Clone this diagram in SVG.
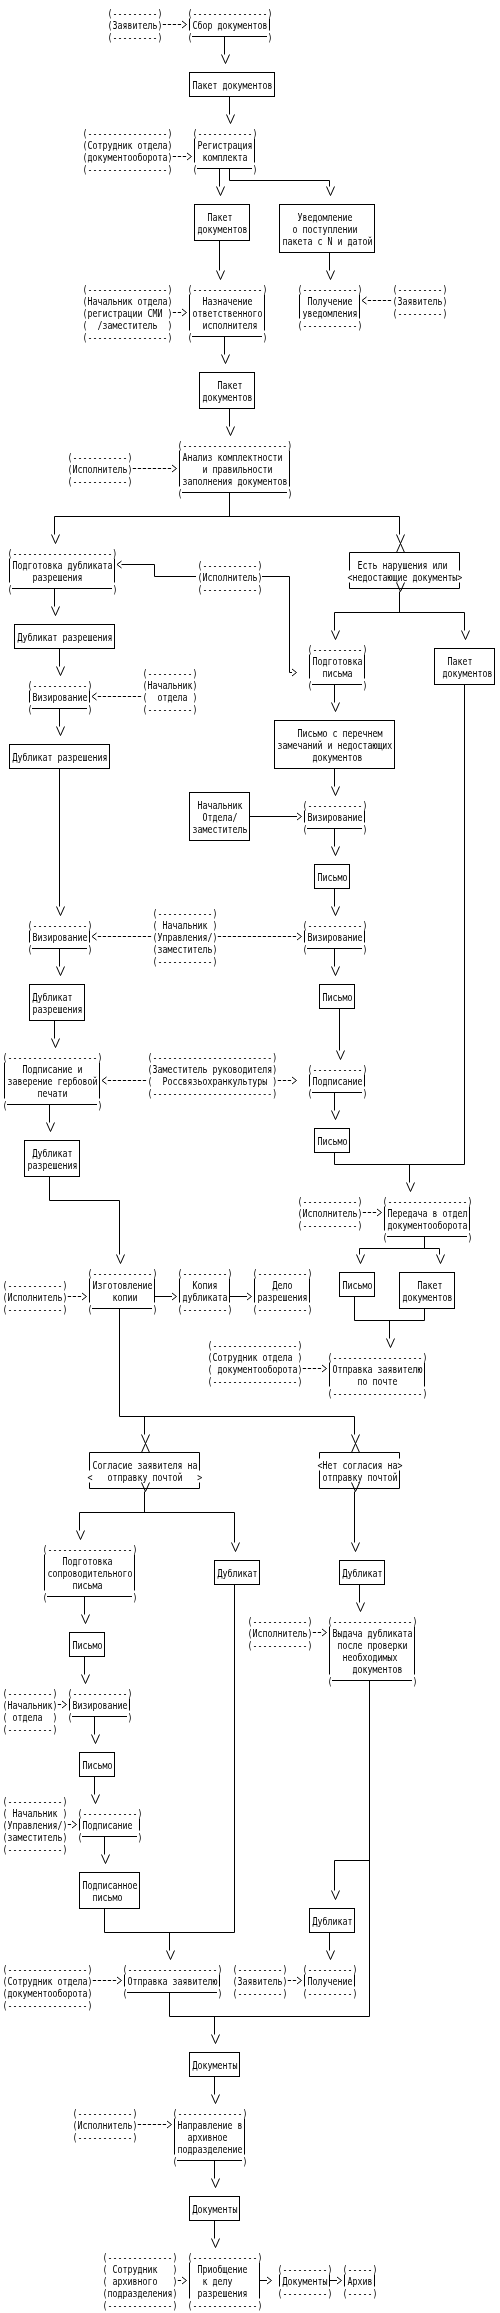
<svg xmlns="http://www.w3.org/2000/svg" width="500" height="2313" viewBox="0 0 500 2313">
<style>
text{font-family:"DejaVu Sans Mono","Liberation Mono",monospace;font-size:11px;fill:#000;white-space:pre}
.l,.b{fill:none;stroke:#000;stroke-width:1}
.d{fill:none;stroke:#000;stroke-width:1;stroke-dasharray:3.3 1.7}
</style>
<defs>
<filter id="gray" x="0" y="0" width="500" height="2313" filterUnits="userSpaceOnUse" color-interpolation-filters="sRGB"><feColorMatrix type="saturate" values="0"/></filter>
<path id="v" d="M-4,0L0,9L4,0" fill="none" stroke="#000"/>
<path id="a" d="M-4,0L0,-9L4,0" fill="none" stroke="#000"/>
<path id="gt" d="M0,-3.5L4.5,0L0,3.5" fill="none" stroke="#000"/>
<path id="lt" d="M4.5,-3.5L0,0L4.5,3.5" fill="none" stroke="#000"/>
</defs>
<rect width="500" height="2313" fill="#fff"/>
<g filter="url(#gray)">
<rect width="500" height="2313" fill="#fff"/>
<g transform="translate(0,.5)">

<g id="n1"><text transform="matrix(.755 0 0 1 107.5 16)">(---------)</text><text transform="matrix(.755 0 0 1 107.5 28)">(Заявитель)</text><text transform="matrix(.755 0 0 1 107.5 40)">(---------)</text></g>

<g id="n2"><text transform="matrix(.755 0 0 1 187.5 16)">(---------------)</text><text transform="matrix(.755 0 0 1 192.5 28)">Сбор документов</text><text transform="matrix(.755 0 0 1 187.5 40)">(</text><text transform="matrix(.755 0 0 1 267.5 40)">)</text><path class="l" d="M189.5,18V30M269.5,18V30M192,36H267"/></g>

<g id="n3"><rect class="b" x="189.5" y="72" width="85" height="24"/><text transform="matrix(.755 0 0 1 192.5 88)">Пакет документов</text></g>

<g id="n4"><text transform="matrix(.755 0 0 1 82.5 136)">(----------------)</text><text transform="matrix(.755 0 0 1 82.5 148)">(Сотрудник отдела)</text><text transform="matrix(.755 0 0 1 82.5 160)">(документооборота)</text><text transform="matrix(.755 0 0 1 82.5 172)">(----------------)</text></g>

<g id="n5"><text transform="matrix(.755 0 0 1 192.5 136)">(-----------)</text><text transform="matrix(.755 0 0 1 197.5 148)">Регистрация</text><text transform="matrix(.755 0 0 1 202.5 160)">комплекта</text><text transform="matrix(.755 0 0 1 192.5 172)">(</text><text transform="matrix(.755 0 0 1 252.5 172)">)</text><path class="l" d="M194.5,138V162M254.5,138V162M197,168H252"/></g>

<g id="n6"><rect class="b" x="194.5" y="204" width="55" height="36"/><text transform="matrix(.755 0 0 1 207.5 220)">Пакет</text><text transform="matrix(.755 0 0 1 197.5 232)">документов</text></g>

<g id="n7"><rect class="b" x="279.5" y="204" width="95" height="48"/><text transform="matrix(.755 0 0 1 297.5 220)">Уведомление</text><text transform="matrix(.755 0 0 1 292.5 232)">о поступлении</text><text transform="matrix(.755 0 0 1 282.5 244)">пакета с N и датой</text></g>

<g id="n8"><text transform="matrix(.755 0 0 1 82.5 292)">(----------------)</text><text transform="matrix(.755 0 0 1 82.5 304)">(Начальник отдела)</text><text transform="matrix(.755 0 0 1 82.5 316)">(регистрации СМИ )</text><text transform="matrix(.755 0 0 1 82.5 328)">(  /заместитель  )</text><text transform="matrix(.755 0 0 1 82.5 340)">(----------------)</text></g>

<g id="n9"><text transform="matrix(.755 0 0 1 187.5 292)">(--------------)</text><text transform="matrix(.755 0 0 1 202.5 304)">Назначение</text><text transform="matrix(.755 0 0 1 192.5 316)">ответственного</text><text transform="matrix(.755 0 0 1 202.5 328)">исполнителя</text><text transform="matrix(.755 0 0 1 187.5 340)">(</text><text transform="matrix(.755 0 0 1 262.5 340)">)</text><path class="l" d="M189.5,294V330M264.5,294V330M192,336H262"/></g>

<g id="n10"><text transform="matrix(.755 0 0 1 297.5 292)">(-----------)</text><text transform="matrix(.755 0 0 1 307.5 304)">Получение</text><text transform="matrix(.755 0 0 1 302.5 316)">уведомления</text><text transform="matrix(.755 0 0 1 297.5 328)">(-----------)</text><path class="l" d="M299.5,294V318M359.5,294V318"/></g>

<g id="n11"><text transform="matrix(.755 0 0 1 392.5 292)">(---------)</text><text transform="matrix(.755 0 0 1 392.5 304)">(Заявитель)</text><text transform="matrix(.755 0 0 1 392.5 316)">(---------)</text></g>

<g id="n12"><rect class="b" x="199.5" y="372" width="55" height="36"/><text transform="matrix(.755 0 0 1 217.5 388)">Пакет</text><text transform="matrix(.755 0 0 1 202.5 400)">документов</text></g>

<g id="n13"><text transform="matrix(.755 0 0 1 67.5 460)">(-----------)</text><text transform="matrix(.755 0 0 1 67.5 472)">(Исполнитель)</text><text transform="matrix(.755 0 0 1 67.5 484)">(-----------)</text></g>

<g id="n14"><text transform="matrix(.755 0 0 1 177.5 448)">(---------------------)</text><text transform="matrix(.755 0 0 1 182.5 460)">Анализ комплектности</text><text transform="matrix(.755 0 0 1 202.5 472)">и правильности</text><text transform="matrix(.755 0 0 1 182.5 484)">заполнения документов</text><text transform="matrix(.755 0 0 1 177.5 496)">(</text><text transform="matrix(.755 0 0 1 287.5 496)">)</text><path class="l" d="M179.5,450V486M289.5,450V486M182,492H287"/></g>

<g id="n15"><text transform="matrix(.755 0 0 1 7.5 556)">(--------------------)</text><text transform="matrix(.755 0 0 1 12.5 568)">Подготовка дубликата</text><text transform="matrix(.755 0 0 1 32.5 580)">разрешения</text><text transform="matrix(.755 0 0 1 7.5 592)">(</text><text transform="matrix(.755 0 0 1 112.5 592)">)</text><path class="l" d="M9.5,558V582M114.5,558V582M12,588H112"/></g>

<g id="n16"><text transform="matrix(.755 0 0 1 197.5 568)">(-----------)</text><text transform="matrix(.755 0 0 1 197.5 580)">(Исполнитель)</text><text transform="matrix(.755 0 0 1 197.5 592)">(-----------)</text></g>

<g id="n17"><path class="l" d="M349.5,570V552H459.5V570M349.5,582V588H459.5V582"/><text transform="matrix(.755 0 0 1 357.5 568)">Есть нарушения или</text><text transform="matrix(.755 0 0 1 347.5 580)">&lt;недостающие документы&gt;</text></g>

<g id="n18"><rect class="b" x="14.5" y="624" width="100" height="24"/><text transform="matrix(.755 0 0 1 17.5 640)">Дубликат разрешения</text></g>

<g id="n19"><text transform="matrix(.755 0 0 1 307.5 652)">(----------)</text><text transform="matrix(.755 0 0 1 312.5 664)">Подготовка</text><text transform="matrix(.755 0 0 1 322.5 676)">письма</text><text transform="matrix(.755 0 0 1 307.5 688)">(</text><text transform="matrix(.755 0 0 1 362.5 688)">)</text><path class="l" d="M309.5,654V678M364.5,654V678M312,684H362"/></g>

<g id="n20"><rect class="b" x="434.5" y="648" width="60" height="36"/><text transform="matrix(.755 0 0 1 447.5 664)">Пакет</text><text transform="matrix(.755 0 0 1 442.5 676)">документов</text></g>

<g id="n21"><text transform="matrix(.755 0 0 1 27.5 688)">(-----------)</text><text transform="matrix(.755 0 0 1 32.5 700)">Визирование</text><text transform="matrix(.755 0 0 1 27.5 712)">(</text><text transform="matrix(.755 0 0 1 87.5 712)">)</text><path class="l" d="M29.5,690V702M89.5,690V702M32,708H87"/></g>

<g id="n22"><text transform="matrix(.755 0 0 1 142.5 676)">(---------)</text><text transform="matrix(.755 0 0 1 142.5 688)">(Начальник)</text><text transform="matrix(.755 0 0 1 142.5 700)">(  отдела )</text><text transform="matrix(.755 0 0 1 142.5 712)">(---------)</text></g>

<g id="n23"><rect class="b" x="274.5" y="720" width="120" height="48"/><text transform="matrix(.755 0 0 1 297.5 736)">Письмо с перечнем</text><text transform="matrix(.755 0 0 1 277.5 748)">замечаний и недостающих</text><text transform="matrix(.755 0 0 1 312.5 760)">документов</text></g>

<g id="n24"><rect class="b" x="9.5" y="744" width="100" height="24"/><text transform="matrix(.755 0 0 1 12.5 760)">Дубликат разрешения</text></g>

<g id="n25"><rect class="b" x="189.5" y="792" width="60" height="48"/><text transform="matrix(.755 0 0 1 197.5 808)">Начальник</text><text transform="matrix(.755 0 0 1 202.5 820)">Отдела/</text><text transform="matrix(.755 0 0 1 192.5 832)">заместитель</text></g>

<g id="n26"><text transform="matrix(.755 0 0 1 302.5 808)">(-----------)</text><text transform="matrix(.755 0 0 1 307.5 820)">Визирование</text><text transform="matrix(.755 0 0 1 302.5 832)">(</text><text transform="matrix(.755 0 0 1 362.5 832)">)</text><path class="l" d="M304.5,810V822M364.5,810V822M307,828H362"/></g>

<g id="n27"><rect class="b" x="314.5" y="864" width="35" height="24"/><text transform="matrix(.755 0 0 1 317.5 880)">Письмо</text></g>

<g id="n28"><text transform="matrix(.755 0 0 1 27.5 928)">(-----------)</text><text transform="matrix(.755 0 0 1 32.5 940)">Визирование</text><text transform="matrix(.755 0 0 1 27.5 952)">(</text><text transform="matrix(.755 0 0 1 87.5 952)">)</text><path class="l" d="M29.5,930V942M89.5,930V942M32,948H87"/></g>

<g id="n29"><text transform="matrix(.755 0 0 1 152.5 916)">(-----------)</text><text transform="matrix(.755 0 0 1 152.5 928)">( Начальник )</text><text transform="matrix(.755 0 0 1 152.5 940)">(Управления/)</text><text transform="matrix(.755 0 0 1 152.5 952)">(заместитель)</text><text transform="matrix(.755 0 0 1 152.5 964)">(-----------)</text></g>

<g id="n30"><text transform="matrix(.755 0 0 1 302.5 928)">(-----------)</text><text transform="matrix(.755 0 0 1 307.5 940)">Визирование</text><text transform="matrix(.755 0 0 1 302.5 952)">(</text><text transform="matrix(.755 0 0 1 362.5 952)">)</text><path class="l" d="M304.5,930V942M364.5,930V942M307,948H362"/></g>

<g id="n31"><rect class="b" x="29.5" y="984" width="55" height="36"/><text transform="matrix(.755 0 0 1 32.5 1000)">Дубликат</text><text transform="matrix(.755 0 0 1 32.5 1012)">разрешения</text></g>

<g id="n32"><rect class="b" x="319.5" y="984" width="35" height="24"/><text transform="matrix(.755 0 0 1 322.5 1000)">Письмо</text></g>

<g id="n33"><text transform="matrix(.755 0 0 1 2.5 1060)">(------------------)</text><text transform="matrix(.755 0 0 1 22.5 1072)">Подписание и</text><text transform="matrix(.755 0 0 1 7.5 1084)">заверение гербовой</text><text transform="matrix(.755 0 0 1 37.5 1096)">печати</text><text transform="matrix(.755 0 0 1 2.5 1108)">(</text><text transform="matrix(.755 0 0 1 97.5 1108)">)</text><path class="l" d="M4.5,1062V1098M99.5,1062V1098M7,1104H97"/></g>

<g id="n34"><text transform="matrix(.755 0 0 1 147.5 1060)">(------------------------)</text><text transform="matrix(.755 0 0 1 147.5 1072)">(Заместитель руководителя)</text><text transform="matrix(.755 0 0 1 147.5 1084)">(  Россвязьохранкультуры )</text><text transform="matrix(.755 0 0 1 147.5 1096)">(------------------------)</text></g>

<g id="n35"><text transform="matrix(.755 0 0 1 307.5 1072)">(----------)</text><text transform="matrix(.755 0 0 1 312.5 1084)">Подписание</text><text transform="matrix(.755 0 0 1 307.5 1096)">(</text><text transform="matrix(.755 0 0 1 362.5 1096)">)</text><path class="l" d="M309.5,1074V1086M364.5,1074V1086M312,1092H362"/></g>

<g id="n36"><rect class="b" x="314.5" y="1128" width="35" height="24"/><text transform="matrix(.755 0 0 1 317.5 1144)">Письмо</text></g>

<g id="n37"><rect class="b" x="24.5" y="1140" width="55" height="36"/><text transform="matrix(.755 0 0 1 32.5 1156)">Дубликат</text><text transform="matrix(.755 0 0 1 27.5 1168)">разрешения</text></g>

<g id="n38"><text transform="matrix(.755 0 0 1 297.5 1204)">(-----------)</text><text transform="matrix(.755 0 0 1 297.5 1216)">(Исполнитель)</text><text transform="matrix(.755 0 0 1 297.5 1228)">(-----------)</text></g>

<g id="n39"><text transform="matrix(.755 0 0 1 382.5 1204)">(----------------)</text><text transform="matrix(.755 0 0 1 387.5 1216)">Передача в отдел</text><text transform="matrix(.755 0 0 1 387.5 1228)">документооборота</text><text transform="matrix(.755 0 0 1 382.5 1240)">(</text><text transform="matrix(.755 0 0 1 467.5 1240)">)</text><path class="l" d="M384.5,1206V1230M469.5,1206V1230M387,1236H467"/></g>

<g id="n40"><text transform="matrix(.755 0 0 1 2.5 1288)">(-----------)</text><text transform="matrix(.755 0 0 1 2.5 1300)">(Исполнитель)</text><text transform="matrix(.755 0 0 1 2.5 1312)">(-----------)</text></g>

<g id="n41"><text transform="matrix(.755 0 0 1 87.5 1276)">(------------)</text><text transform="matrix(.755 0 0 1 92.5 1288)">Изготовление</text><text transform="matrix(.755 0 0 1 112.5 1300)">копии</text><text transform="matrix(.755 0 0 1 87.5 1312)">(</text><text transform="matrix(.755 0 0 1 152.5 1312)">)</text><path class="l" d="M89.5,1278V1302M154.5,1278V1302M92,1308H152"/></g>

<g id="n42"><text transform="matrix(.755 0 0 1 177.5 1276)">(---------)</text><text transform="matrix(.755 0 0 1 192.5 1288)">Копия</text><text transform="matrix(.755 0 0 1 182.5 1300)">дубликата</text><text transform="matrix(.755 0 0 1 177.5 1312)">(---------)</text><path class="l" d="M179.5,1278V1302M229.5,1278V1302"/></g>

<g id="n43"><text transform="matrix(.755 0 0 1 252.5 1276)">(----------)</text><text transform="matrix(.755 0 0 1 272.5 1288)">Дело</text><text transform="matrix(.755 0 0 1 257.5 1300)">разрешения</text><text transform="matrix(.755 0 0 1 252.5 1312)">(----------)</text><path class="l" d="M254.5,1278V1302M309.5,1278V1302"/></g>

<g id="n44"><rect class="b" x="339.5" y="1272" width="35" height="24"/><text transform="matrix(.755 0 0 1 342.5 1288)">Письмо</text></g>

<g id="n45"><rect class="b" x="399.5" y="1272" width="55" height="36"/><text transform="matrix(.755 0 0 1 417.5 1288)">Пакет</text><text transform="matrix(.755 0 0 1 402.5 1300)">документов</text></g>

<g id="n46"><text transform="matrix(.755 0 0 1 207.5 1348)">(-----------------)</text><text transform="matrix(.755 0 0 1 207.5 1360)">(Сотрудник отдела )</text><text transform="matrix(.755 0 0 1 207.5 1372)">( документооборота)</text><text transform="matrix(.755 0 0 1 207.5 1384)">(-----------------)</text></g>

<g id="n47"><text transform="matrix(.755 0 0 1 327.5 1360)">(------------------)</text><text transform="matrix(.755 0 0 1 332.5 1372)">Отправка заявителю</text><text transform="matrix(.755 0 0 1 357.5 1384)">по почте</text><text transform="matrix(.755 0 0 1 327.5 1396)">(------------------)</text><path class="l" d="M329.5,1362V1386M424.5,1362V1386"/></g>

<g id="n48"><path class="l" d="M89.5,1470V1452H199.5V1470M89.5,1482V1488H199.5V1482"/><text transform="matrix(.755 0 0 1 92.5 1468)">Согласие заявителя на</text><text transform="matrix(.755 0 0 1 87.5 1480)">&lt;   отправку почтой   &gt;</text></g>

<g id="n49"><path class="l" d="M319.5,1458V1452H399.5V1458M319.5,1470V1488H399.5V1470"/><text transform="matrix(.755 0 0 1 317.5 1468)">&lt;Нет согласия на&gt;</text><text transform="matrix(.755 0 0 1 322.5 1480)">отправку почтой</text></g>

<g id="n50"><text transform="matrix(.755 0 0 1 42.5 1552)">(-----------------)</text><text transform="matrix(.755 0 0 1 62.5 1564)">Подготовка</text><text transform="matrix(.755 0 0 1 47.5 1576)">сопроводительного</text><text transform="matrix(.755 0 0 1 72.5 1588)">письма</text><text transform="matrix(.755 0 0 1 42.5 1600)">(</text><text transform="matrix(.755 0 0 1 132.5 1600)">)</text><path class="l" d="M44.5,1554V1590M134.5,1554V1590M47,1596H132"/></g>

<g id="n51"><rect class="b" x="214.5" y="1560" width="45" height="24"/><text transform="matrix(.755 0 0 1 217.5 1576)">Дубликат</text></g>

<g id="n52"><rect class="b" x="339.5" y="1560" width="45" height="24"/><text transform="matrix(.755 0 0 1 342.5 1576)">Дубликат</text></g>

<g id="n53"><rect class="b" x="69.5" y="1632" width="35" height="24"/><text transform="matrix(.755 0 0 1 72.5 1648)">Письмо</text></g>

<g id="n54"><text transform="matrix(.755 0 0 1 247.5 1624)">(-----------)</text><text transform="matrix(.755 0 0 1 247.5 1636)">(Исполнитель)</text><text transform="matrix(.755 0 0 1 247.5 1648)">(-----------)</text></g>

<g id="n55"><text transform="matrix(.755 0 0 1 327.5 1624)">(----------------)</text><text transform="matrix(.755 0 0 1 332.5 1636)">Выдача дубликата</text><text transform="matrix(.755 0 0 1 337.5 1648)">после проверки</text><text transform="matrix(.755 0 0 1 342.5 1660)">необходимых</text><text transform="matrix(.755 0 0 1 352.5 1672)">документов</text><text transform="matrix(.755 0 0 1 327.5 1684)">(</text><text transform="matrix(.755 0 0 1 412.5 1684)">)</text><path class="l" d="M329.5,1626V1674M414.5,1626V1674M332,1680H412"/></g>

<g id="n56"><text transform="matrix(.755 0 0 1 2.5 1696)">(---------)</text><text transform="matrix(.755 0 0 1 2.5 1708)">(Начальник)</text><text transform="matrix(.755 0 0 1 2.5 1720)">( отдела  )</text><text transform="matrix(.755 0 0 1 2.5 1732)">(---------)</text></g>

<g id="n57"><text transform="matrix(.755 0 0 1 67.5 1696)">(-----------)</text><text transform="matrix(.755 0 0 1 72.5 1708)">Визирование</text><text transform="matrix(.755 0 0 1 67.5 1720)">(</text><text transform="matrix(.755 0 0 1 127.5 1720)">)</text><path class="l" d="M69.5,1698V1710M129.5,1698V1710M72,1716H127"/></g>

<g id="n58"><rect class="b" x="79.5" y="1752" width="35" height="24"/><text transform="matrix(.755 0 0 1 82.5 1768)">Письмо</text></g>

<g id="n59"><text transform="matrix(.755 0 0 1 2.5 1804)">(-----------)</text><text transform="matrix(.755 0 0 1 2.5 1816)">( Начальник )</text><text transform="matrix(.755 0 0 1 2.5 1828)">(Управления/)</text><text transform="matrix(.755 0 0 1 2.5 1840)">(заместитель)</text><text transform="matrix(.755 0 0 1 2.5 1852)">(-----------)</text></g>

<g id="n60"><text transform="matrix(.755 0 0 1 77.5 1816)">(-----------)</text><text transform="matrix(.755 0 0 1 82.5 1828)">Подписание</text><text transform="matrix(.755 0 0 1 77.5 1840)">(</text><text transform="matrix(.755 0 0 1 137.5 1840)">)</text><path class="l" d="M79.5,1818V1830M139.5,1818V1830M82,1836H137"/></g>

<g id="n61"><rect class="b" x="79.5" y="1872" width="60" height="36"/><text transform="matrix(.755 0 0 1 82.5 1888)">Подписанное</text><text transform="matrix(.755 0 0 1 92.5 1900)">письмо</text></g>

<g id="n62"><rect class="b" x="309.5" y="1908" width="45" height="24"/><text transform="matrix(.755 0 0 1 312.5 1924)">Дубликат</text></g>

<g id="n63"><text transform="matrix(.755 0 0 1 2.5 1972)">(----------------)</text><text transform="matrix(.755 0 0 1 2.5 1984)">(Сотрудник отдела)</text><text transform="matrix(.755 0 0 1 2.5 1996)">(документооборота)</text><text transform="matrix(.755 0 0 1 2.5 2008)">(----------------)</text></g>

<g id="n64"><text transform="matrix(.755 0 0 1 122.5 1972)">(------------------)</text><text transform="matrix(.755 0 0 1 127.5 1984)">Отправка заявителю</text><text transform="matrix(.755 0 0 1 122.5 1996)">(</text><text transform="matrix(.755 0 0 1 217.5 1996)">)</text><path class="l" d="M124.5,1974V1986M219.5,1974V1986M127,1992H217"/></g>

<g id="n65"><text transform="matrix(.755 0 0 1 232.5 1972)">(---------)</text><text transform="matrix(.755 0 0 1 232.5 1984)">(Заявитель)</text><text transform="matrix(.755 0 0 1 232.5 1996)">(---------)</text></g>

<g id="n66"><text transform="matrix(.755 0 0 1 302.5 1972)">(---------)</text><text transform="matrix(.755 0 0 1 307.5 1984)">Получение</text><text transform="matrix(.755 0 0 1 302.5 1996)">(---------)</text><path class="l" d="M304.5,1974V1986M354.5,1974V1986"/></g>

<g id="n67"><rect class="b" x="189.5" y="2052" width="50" height="24"/><text transform="matrix(.755 0 0 1 192.5 2068)">Документы</text></g>

<g id="n68"><text transform="matrix(.755 0 0 1 72.5 2116)">(-----------)</text><text transform="matrix(.755 0 0 1 72.5 2128)">(Исполнитель)</text><text transform="matrix(.755 0 0 1 72.5 2140)">(-----------)</text></g>

<g id="n69"><text transform="matrix(.755 0 0 1 172.5 2116)">(-------------)</text><text transform="matrix(.755 0 0 1 177.5 2128)">Направление в</text><text transform="matrix(.755 0 0 1 187.5 2140)">архивное</text><text transform="matrix(.755 0 0 1 177.5 2152)">подразделение</text><text transform="matrix(.755 0 0 1 172.5 2164)">(</text><text transform="matrix(.755 0 0 1 242.5 2164)">)</text><path class="l" d="M174.5,2118V2154M244.5,2118V2154M177,2160H242"/></g>

<g id="n70"><rect class="b" x="189.5" y="2196" width="50" height="24"/><text transform="matrix(.755 0 0 1 192.5 2212)">Документы</text></g>

<g id="n71"><text transform="matrix(.755 0 0 1 102.5 2260)">(-------------)</text><text transform="matrix(.755 0 0 1 102.5 2272)">( Сотрудник   )</text><text transform="matrix(.755 0 0 1 102.5 2284)">( архивного   )</text><text transform="matrix(.755 0 0 1 102.5 2296)">(подразделения)</text><text transform="matrix(.755 0 0 1 102.5 2308)">(-------------)</text></g>

<g id="n72"><text transform="matrix(.755 0 0 1 187.5 2260)">(-------------)</text><text transform="matrix(.755 0 0 1 197.5 2272)">Приобщение</text><text transform="matrix(.755 0 0 1 202.5 2284)">к делу</text><text transform="matrix(.755 0 0 1 197.5 2296)">разрешения</text><text transform="matrix(.755 0 0 1 187.5 2308)">(-------------)</text><path class="l" d="M189.5,2262V2298M259.5,2262V2298"/></g>

<g id="n73"><text transform="matrix(.755 0 0 1 277.5 2272)">(---------)</text><text transform="matrix(.755 0 0 1 282.5 2284)">Документы</text><text transform="matrix(.755 0 0 1 277.5 2296)">(---------)</text><path class="l" d="M279.5,2274V2286M329.5,2274V2286"/></g>

<g id="n74"><text transform="matrix(.755 0 0 1 342.5 2272)">(-----)</text><text transform="matrix(.755 0 0 1 347.5 2284)">Архив</text><text transform="matrix(.755 0 0 1 342.5 2296)">(-----)</text><path class="l" d="M344.5,2274V2286M374.5,2274V2286"/></g>

<g id="connectors">
<path class="l" d="M224.5,36V54M229.5,96V114M219.5,168V186M229.5,168V180H329.5V186M219.5,240V270M329.5,252V270M224.5,336V354M229.5,408V426M229.5,492V516M54.5,534V516H399.5V534M196,576H154.5V564H121.5M262,576H289.5V672H292M399.5,591V612M334.5,630V612H464.5V630M54.5,588V606M59.5,648V666M334.5,684V702M59.5,708V726M334.5,768V786M59.5,768V906M249.5,816H297M334.5,828V846M334.5,888V906M59.5,948V966M334.5,948V966M54.5,1020V1038M339.5,1008V1050M49.5,1104V1122M334.5,1092V1110M464.5,684V1164H334.5V1152M409.5,1164V1182M49.5,1176V1200H119.5V1254M424.5,1236V1248M359.5,1254V1248H439.5V1254M154.5,1296H172M229.5,1296H247M119.5,1308V1416H354.5M144.5,1416V1434M354.5,1416V1434M354.5,1296V1320H424.5V1308M389.5,1320V1338M144.5,1491V1512M79.5,1530V1512H234.5V1542M354.5,1491V1542M84.5,1596V1614M234.5,1584V1932H104.5V1908M169.5,1932V1950M359.5,1584V1602M84.5,1656V1674M369.5,1680V2016H169.5V1992M369.5,1860H334.5V1890M214.5,2016V2034M94.5,1716V1734M94.5,1776V1794M104.5,1836V1854M329.5,1932V1950M214.5,2076V2094M214.5,2160V2178M214.5,2220V2238M259.5,2280H267M329.5,2280H337"/>
<path class="d" d="M162.8,24H181.1M172.8,156H186.1M172.8,312H181.1M367.8,300H391.1M132.8,468H171.1M97.8,696H141.1M97.8,936H151.1M217.8,936H296.1M107.8,1080H146.1M277.8,1080H291.1M362.8,1212H376.1M67.8,1296H81.1M302.8,1368H321.1M312.8,1632H321.1M57.8,1704H61.1M67.8,1824H71.1M92.8,1980H116.1M287.8,1980H296.1M137.8,2124H166.1M177.8,2280H181.1"/>
<use href="#gt" x="182" y="24"/><use href="#gt" x="187" y="156"/><use href="#gt" x="182" y="312"/><use href="#lt" x="362" y="300"/><use href="#gt" x="172" y="468"/><use href="#lt" x="117" y="564"/><use href="#gt" x="292" y="672"/><use href="#lt" x="92" y="696"/><use href="#gt" x="297" y="816"/><use href="#lt" x="92" y="936"/><use href="#gt" x="297" y="936"/><use href="#lt" x="102" y="1080"/><use href="#gt" x="292" y="1080"/><use href="#gt" x="377" y="1212"/><use href="#gt" x="82" y="1296"/><use href="#gt" x="172" y="1296"/><use href="#gt" x="247" y="1296"/><use href="#gt" x="322" y="1368"/><use href="#gt" x="322" y="1632"/><use href="#gt" x="62" y="1704"/><use href="#gt" x="72" y="1824"/><use href="#gt" x="117" y="1980"/><use href="#gt" x="297" y="1980"/><use href="#gt" x="167" y="2124"/><use href="#gt" x="182" y="2280"/><use href="#gt" x="267" y="2280"/><use href="#gt" x="337" y="2280"/>
<use href="#v" x="225.5" y="54"/><use href="#v" x="230.5" y="114"/><use href="#v" x="220.5" y="186"/><use href="#v" x="330.5" y="186"/><use href="#v" x="220.5" y="270"/><use href="#v" x="330.5" y="270"/><use href="#v" x="225.5" y="354"/><use href="#v" x="230.5" y="426"/><use href="#v" x="55.5" y="534"/><use href="#v" x="400.5" y="534"/><use href="#a" x="400.5" y="552"/><use href="#v" x="400.5" y="582"/><use href="#v" x="55.5" y="606"/><use href="#v" x="335.5" y="630"/><use href="#v" x="465.5" y="630"/><use href="#v" x="60.5" y="666"/><use href="#v" x="335.5" y="702"/><use href="#v" x="60.5" y="726"/><use href="#v" x="335.5" y="786"/><use href="#v" x="335.5" y="846"/><use href="#v" x="60.5" y="906"/><use href="#v" x="335.5" y="906"/><use href="#v" x="60.5" y="966"/><use href="#v" x="335.5" y="966"/><use href="#v" x="55.5" y="1038"/><use href="#v" x="340.5" y="1050"/><use href="#v" x="335.5" y="1110"/><use href="#v" x="50.5" y="1122"/><use href="#v" x="410.5" y="1182"/><use href="#v" x="120.5" y="1254"/><use href="#v" x="360.5" y="1254"/><use href="#v" x="440.5" y="1254"/><use href="#v" x="390.5" y="1338"/><use href="#v" x="145.5" y="1434"/><use href="#v" x="355.5" y="1434"/><use href="#a" x="145.5" y="1452"/><use href="#a" x="355.5" y="1452"/><use href="#v" x="145.5" y="1482"/><use href="#v" x="355.5" y="1482"/><use href="#v" x="80.5" y="1530"/><use href="#v" x="235.5" y="1542"/><use href="#v" x="355.5" y="1542"/><use href="#v" x="360.5" y="1602"/><use href="#v" x="85.5" y="1614"/><use href="#v" x="85.5" y="1674"/><use href="#v" x="95.5" y="1734"/><use href="#v" x="95.5" y="1794"/><use href="#v" x="105.5" y="1854"/><use href="#v" x="335.5" y="1890"/><use href="#v" x="170.5" y="1950"/><use href="#v" x="330.5" y="1950"/><use href="#v" x="215.5" y="2034"/><use href="#v" x="215.5" y="2094"/><use href="#v" x="215.5" y="2178"/><use href="#v" x="215.5" y="2238"/>
</g>
</g>
</g>
</svg>
